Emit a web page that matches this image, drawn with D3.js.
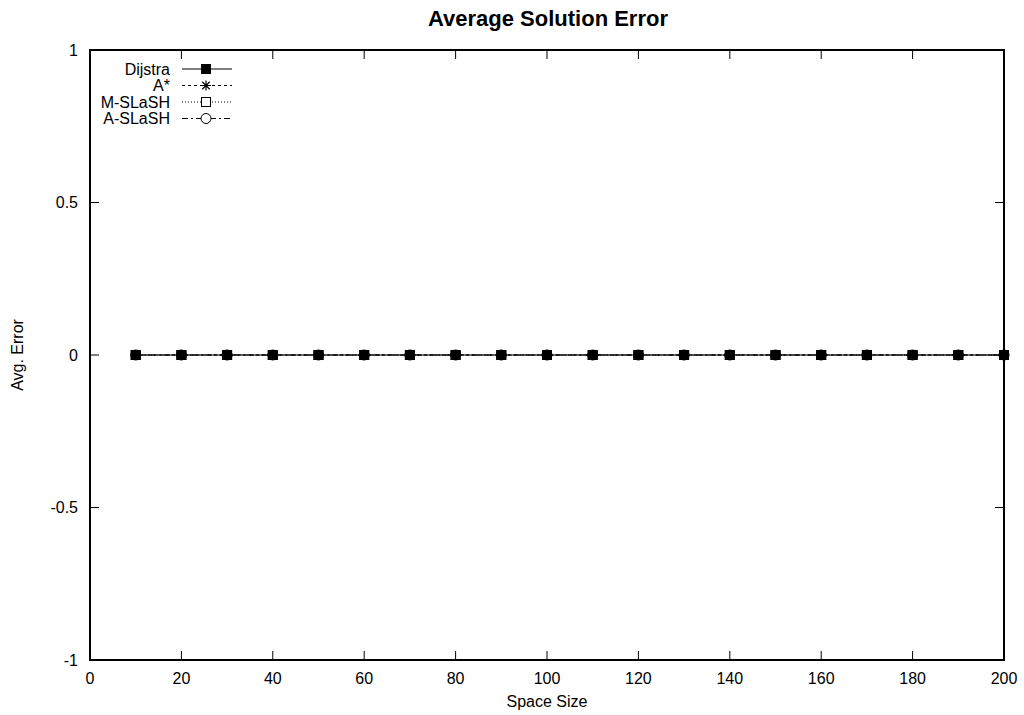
<!DOCTYPE html>
<html><head><meta charset="utf-8">
<script src="https://cdn.jsdelivr.net/npm/d3@7"></script>
<style>body{margin:0;background:#fff;} text{font-family:"Liberation Sans",Arial,sans-serif;}</style>
</head><body><svg id="c" width="1024" height="715"></svg>
<script>
const spaceSizes = [10,20,30,40,50,60,70,80,90,100,110,120,130,140,150,160,170,180,190,200];
const dijstra = [0,0,0,0,0,0,0,0,0,0,0,0,0,0,0,0,0,0,0,0];
const aStar   = [0,0,0,0,0,0,0,0,0,0,0,0,0,0,0,0,0,0,0,0];
const mSlash  = [0,0,0,0,0,0,0,0,0,0,0,0,0,0,0,0,0,0,0,0];
const aSlash  = [0,0,0,0,0,0,0,0,0,0,0,0,0,0,0,0,0,0,0,0];
const xTicks = [0,20,40,60,80,100,120,140,160,180,200];
const yTicks = [-1,-0.5,0,0.5,1];
const seriesNames = ["Dijstra","A*","M-SLaSH","A-SLaSH"];

const FS=16;
const svg = d3.select("#c");
const L=90,R=1004,T=50,B=660;
const x = d3.scaleLinear().domain([0,200]).range([L,R]);
const y = d3.scaleLinear().domain([-1,1]).range([B,T]);

const series = [
 {name:seriesNames[3], vals:aSlash, dash:"6,3,2,3", marker:"circle"},
 {name:seriesNames[2], vals:mSlash, dash:"1,2", marker:"osquare"},
 {name:seriesNames[1], vals:aStar, dash:"3,3", marker:"star"},
 {name:seriesNames[0], vals:dijstra, dash:null, marker:"fsquare"}
];

function drawMarker(g, type, cx, cy){
  if(type==="fsquare") g.append("rect").attr("x",cx-5).attr("y",cy-5).attr("width",10).attr("height",10).attr("fill","#000");
  else if(type==="osquare") g.append("rect").attr("x",cx-4.5).attr("y",cy-4.5).attr("width",9).attr("height",9).attr("fill","#fff").attr("stroke","#000");
  else if(type==="circle") g.append("circle").attr("cx",cx).attr("cy",cy).attr("r",5).attr("fill","#fff").attr("stroke","#000");
  else if(type==="star"){
    const s=5;
    g.append("path").attr("d",`M${cx-s},${cy}H${cx+s}M${cx},${cy-s}V${cy+s}M${cx-s*0.75},${cy-s*0.75}L${cx+s*0.75},${cy+s*0.75}M${cx-s*0.75},${cy+s*0.75}L${cx+s*0.75},${cy-s*0.75}`).attr("stroke","#000").attr("stroke-width",1.2).attr("fill","none");
  }
}

const tl=9;
const axG = svg.append("g").attr("stroke","#000").attr("stroke-width",1);
xTicks.forEach(v=>{
  axG.append("line").attr("x1",x(v)).attr("x2",x(v)).attr("y1",B).attr("y2",B-tl);
  axG.append("line").attr("x1",x(v)).attr("x2",x(v)).attr("y1",T).attr("y2",T+tl);
  svg.append("text").attr("x",x(v)).attr("y",684).attr("text-anchor","middle").attr("font-size",FS).text(d3.format("d")(v));
});
yTicks.forEach(v=>{
  axG.append("line").attr("x1",L).attr("x2",L+tl).attr("y1",y(v)).attr("y2",y(v));
  axG.append("line").attr("x1",R).attr("x2",R-tl).attr("y1",y(v)).attr("y2",y(v));
  svg.append("text").attr("x",78).attr("y",y(v)+5.5).attr("text-anchor","end").attr("font-size",FS).text(v===0?"0":String(v));
});

const line = d3.line().x((d,i)=>x(spaceSizes[i])).y(d=>y(d));
series.forEach(s=>{
  svg.append("path").datum(s.vals).attr("d",line).attr("fill","none").attr("stroke","#000").attr("stroke-width",1).attr("stroke-dasharray",s.dash);
  const g=svg.append("g");
  s.vals.forEach((v,i)=>drawMarker(g,s.marker,x(spaceSizes[i]),y(v)));
});

svg.append("rect").attr("x",L).attr("y",T).attr("width",R-L).attr("height",B-T).attr("fill","none").attr("stroke","#000").attr("stroke-width",2);

const legY=[69,85.5,102,118.5];
const legSeries=[series[3],series[2],series[1],series[0]];
legSeries.forEach((s,i)=>{
  const cy=legY[i];
  svg.append("text").attr("x",170).attr("y",cy+5.5).attr("text-anchor","end").attr("font-size",FS).text(s.name);
  svg.append("line").attr("x1",182).attr("x2",232).attr("y1",cy).attr("y2",cy).attr("stroke",i===0?"#555":"#000").attr("stroke-width",i===0?1.5:1).attr("stroke-dasharray",s.dash);
  drawMarker(svg.append("g"),s.marker,206,cy);
});

svg.append("text").attr("x",548).attr("y",26).attr("text-anchor","middle").attr("font-size",22).attr("font-weight","bold").text("Average Solution Error");
svg.append("text").attr("x",547).attr("y",707).attr("text-anchor","middle").attr("font-size",FS).text("Space Size");
svg.append("text").attr("transform","translate(23,355) rotate(-90)").attr("text-anchor","middle").attr("font-size",FS).text("Avg. Error");
</script></body></html>
